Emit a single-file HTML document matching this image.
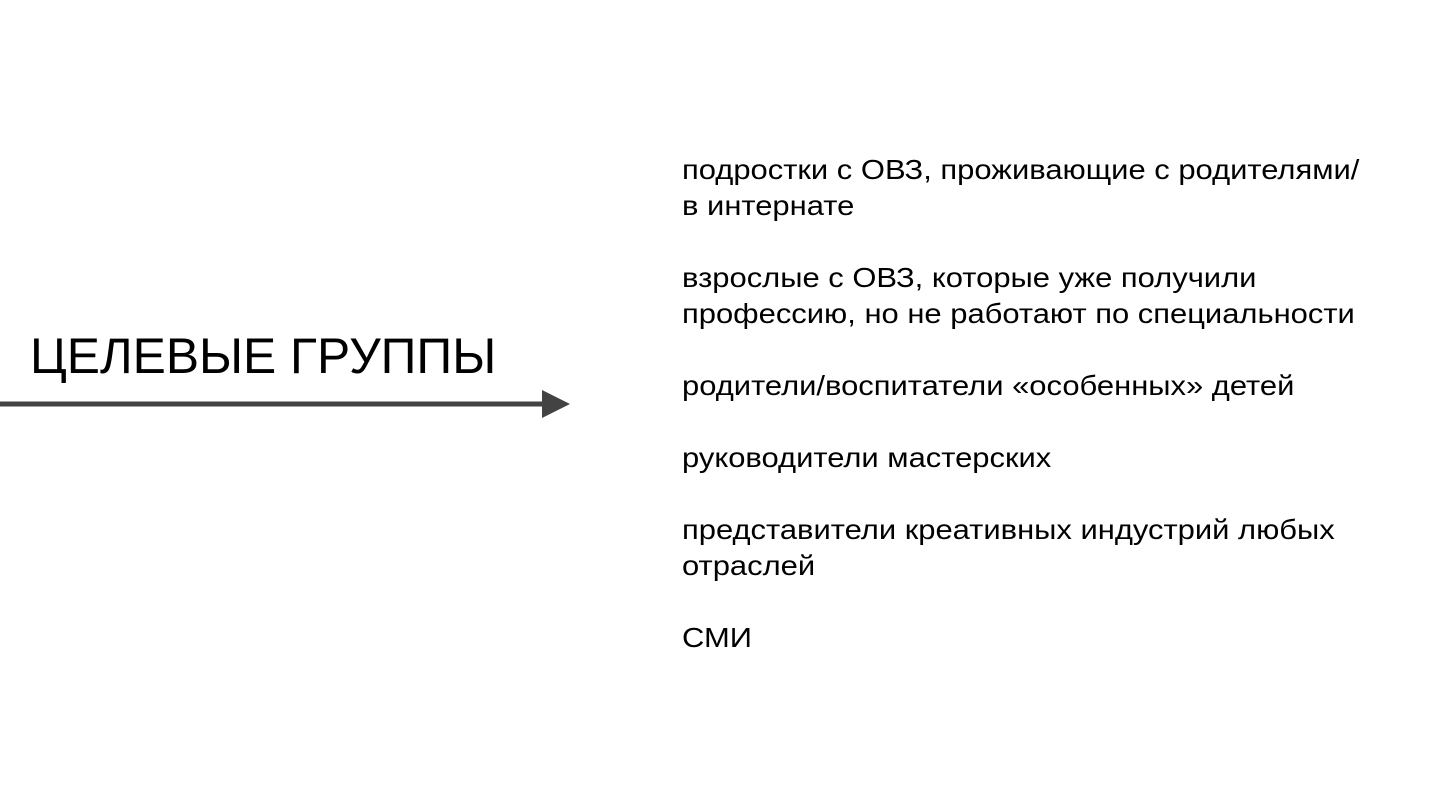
<!DOCTYPE html>
<html><head><meta charset="utf-8"><style>
html,body{margin:0;padding:0;width:1440px;height:810px;background:#fff;overflow:hidden}
body{position:relative;font-family:"Liberation Sans",Arial,sans-serif;color:#000}
.t{position:absolute;left:30px;top:326px;font-size:50px;line-height:60px;white-space:nowrap;transform:scaleX(0.995);transform-origin:0 0}
.l{position:absolute;left:682px;font-size:28px;line-height:36px;white-space:nowrap;transform:scaleX(1.105);transform-origin:0 0}
</style></head><body>
<div class="t">ЦЕЛЕВЫЕ ГРУППЫ</div>
<svg style="position:absolute;left:0;top:0" width="1440" height="810">
<rect x="0" y="401.5" width="546" height="5" fill="#434343"/>
<polygon points="542,390 570,404 542,418" fill="#434343"/>
</svg>
<div class="l" style="top:152px">подростки с ОВЗ, проживающие с родителями/</div>
<div class="l" style="top:188px">в интернате</div>
<div class="l" style="top:260px">взрослые с ОВЗ, которые уже получили</div>
<div class="l" style="top:296px">профессию, но не работают по специальности</div>
<div class="l" style="top:368px">родители/воспитатели «особенных» детей</div>
<div class="l" style="top:440px">руководители мастерских</div>
<div class="l" style="top:512px">представители креативных индустрий любых</div>
<div class="l" style="top:548px">отраслей</div>
<div class="l" style="top:620px">СМИ</div>
</body></html>
